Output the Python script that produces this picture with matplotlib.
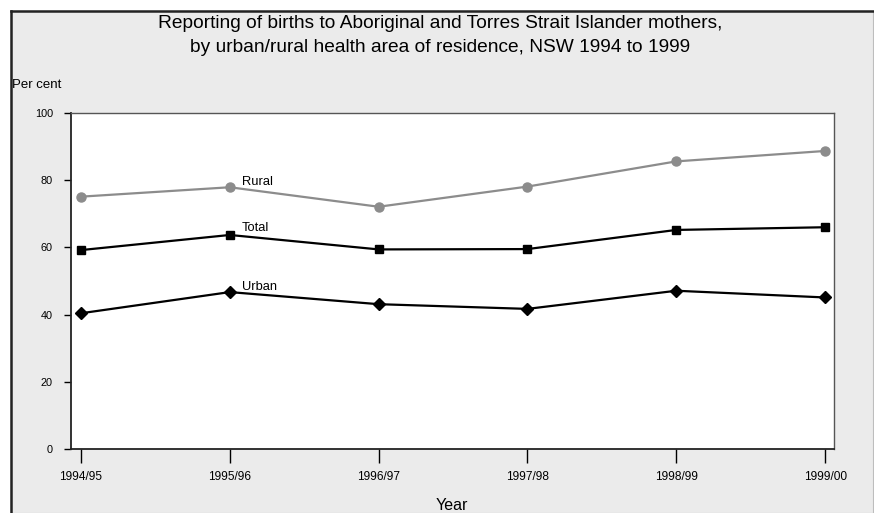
# Reporting of births to Aboriginal and Torres Strait Islander mothers, NSW
import matplotlib
matplotlib.use("Agg")
import matplotlib.pyplot as plt
from matplotlib.patches import Rectangle

plt.rcParams['font.family'] = ['Liberation Sans', 'DejaVu Sans']

# data
years = ["1994/95", "1995/96", "1996/97", "1997/98", "1998/99", "1999/00"]
rural = [75.1, 77.9, 72.1, 78.1, 85.6, 88.7]
total = [59.2, 63.7, 59.4, 59.5, 65.2, 66.0]
urban = [40.4, 46.7, 43.1, 41.7, 47.1, 45.1]
yticks = [0, 20, 40, 60, 80, 100]

W, H = 874, 513
fig = plt.figure(figsize=(W / 100, H / 100), dpi=100)
fig.patch.set_facecolor('white')

# grey panel with dark frame on left and top
fig.patches.append(Rectangle((11 / W, 0), 862 / W, 1 - 11 / H,
                             transform=fig.transFigure, facecolor='#ebebeb',
                             edgecolor='#bdbdbd', linewidth=0.8, zorder=-10))
fig.add_artist(plt.Line2D([11 / W, 11 / W], [0, 1 - 11 / H], color='#222222',
                          linewidth=1.8, transform=fig.transFigure, zorder=-5))
fig.add_artist(plt.Line2D([11 / W, 873 / W], [1 - 11 / H, 1 - 11 / H],
                          color='#222222', linewidth=1.8, transform=fig.transFigure,
                          zorder=-5))

ax = fig.add_axes([71 / W, 1 - 449 / H, (834 - 71) / W, (449 - 113) / H])
ax.set_facecolor('white')

x = range(len(years))
ax.plot(x, rural, color='#8c8c8c', linewidth=1.6, marker='o', markersize=6.5)
ax.plot(x, total, color='black', linewidth=1.6, marker='s', markersize=5.5)
ax.plot(x, urban, color='black', linewidth=1.6, marker='D', markersize=6)

# series labels next to the 1995/96 points
ax.text(1.08, rural[1] + 1.5, "Rural", fontsize=9.3, va='center')
ax.text(1.08, total[1] + 2.0, "Total", fontsize=9.3, va='center')
ax.text(1.08, urban[1] + 1.6, "Urban", fontsize=9.3, va='center')

ax.set_xlim(-0.067, 5.06)
ax.set_ylim(0, 100)
ax.set_xticks(list(x))
ax.set_xticklabels(years, fontsize=8.6)
ax.set_yticks(yticks)
ax.set_yticklabels([str(v) for v in yticks], fontsize=7.8)
ax.tick_params(axis='x', length=10, width=1, pad=6)
ax.tick_params(axis='y', length=5, width=1, pad=8)
for s in ['left', 'bottom']:
    ax.spines[s].set_linewidth(1.3)
    ax.spines[s].set_color('#222222')
for s in ['right', 'top']:
    ax.spines[s].set_linewidth(1.0)
    ax.spines[s].set_color('#555555')

fig.text(440 / W, 1 - 24 / H, "Reporting of births to Aboriginal and Torres Strait Islander mothers,",
         ha='center', va='center', fontsize=13.8)
fig.text(440 / W, 1 - 48 / H, "by urban/rural health area of residence, NSW 1994 to 1999",
         ha='center', va='center', fontsize=13.8)
fig.text(12 / W, 1 - 85 / H, "Per cent", ha='left', va='center', fontsize=9.5)
fig.text(452 / W, 1 - 505 / H, "Year", ha='center', va='center', fontsize=11.5)

fig.savefig("out.png", dpi=100)
